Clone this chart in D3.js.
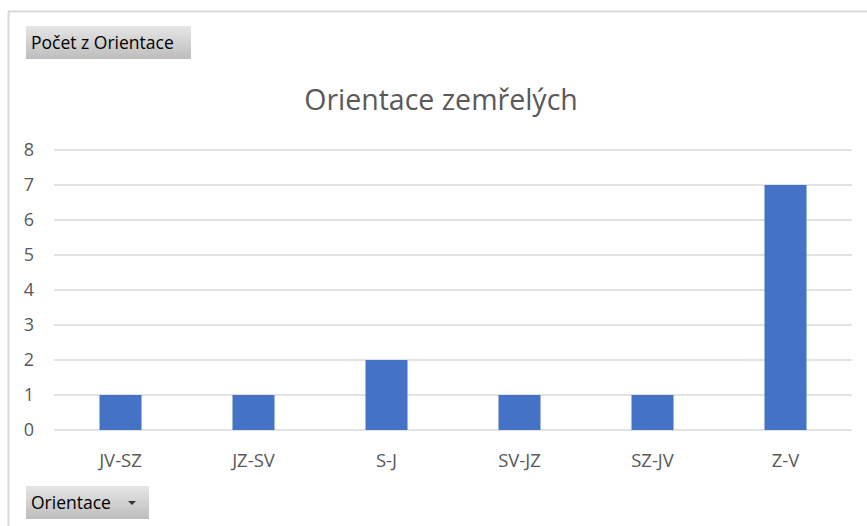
<!DOCTYPE html>
<html>
<head>
<meta charset="utf-8">
<script src="https://cdn.jsdelivr.net/npm/d3@7"></script>
<style>
  body { margin: 0; background: #fff; }
  svg { display: block; font-family: "Open Sans", "DejaVu Sans", sans-serif; }
</style>
</head>
<body>
<svg id="chart"></svg>
<script>
var categories = ["JV-SZ", "JZ-SV", "S-J", "SV-JZ", "SZ-JV", "Z-V"];
var counts = [1, 1, 2, 1, 1, 7];
var yTicks = [0, 1, 2, 3, 4, 5, 6, 7, 8];

var width = 867;
var height = 526;

var svg = d3.select("#chart")
    .attr("width", width)
    .attr("height", height)

// outer frame (top and left edges only visible)
svg.append("line")
    .attr("x1", 8).attr("x2", width)
    .attr("y1", 11.5).attr("y2", 11.5)
    .attr("stroke", "#d9d9d9").attr("stroke-width", 2)
svg.append("line")
    .attr("x1", 8.5).attr("x2", 8.5)
    .attr("y1", 11).attr("y2", height)
    .attr("stroke", "#d9d9d9").attr("stroke-width", 2)

var plotLeft = 54, plotRight = 852, plotTop = 150, plotBottom = 430;

var xScale = d3.scaleBand()
    .domain(categories)
    .range([plotLeft, plotRight])
    .paddingInner(0.684)
    .paddingOuter(0.342);

var yScale = d3.scaleLinear()
    .domain([0, 8])
    .range([plotBottom, plotTop]);

// gridlines
svg.append("g")
    .selectAll("line")
    .data(yTicks)
    .enter()
    .append("line")
    .attr("x1", plotLeft)
    .attr("x2", plotRight)
    .attr("y1", function(d) { return yScale(d); })
    .attr("y2", function(d) { return yScale(d); })
    .attr("stroke", "#d9d9d9")
    .attr("stroke-width", 1.5)

// y tick labels
svg.append("g")
    .selectAll("text")
    .data(yTicks)
    .enter()
    .append("text")
    .attr("x", 34)
    .attr("y", function(d) { return yScale(d); })
    .attr("dy", "0.36em")
    .attr("text-anchor", "end")
    .attr("font-size", 18)
    .attr("fill", "#595959")
    .text(function(d) { return d; })

// bars
svg.append("g")
    .selectAll("rect")
    .data(counts)
    .enter()
    .append("rect")
    .attr("x", function(d, i) { return xScale(categories[i]); })
    .attr("width", xScale.bandwidth())
    .attr("y", function(d) { return yScale(d); })
    .attr("height", function(d) { return yScale(0) - yScale(d); })
    .attr("fill", "#4472c4")

// x labels
svg.append("g")
    .selectAll("text")
    .data(categories)
    .enter()
    .append("text")
    .attr("x", function(d) { return xScale(d) + xScale.bandwidth() / 2; })
    .attr("y", 460)
    .attr("dy", "0.36em")
    .attr("text-anchor", "middle")
    .attr("font-size", 18.5)
    .attr("fill", "#595959")
    .text(function(d) { return d; })

// title
svg.append("text")
    .attr("x", 441)
    .attr("y", 100)
    .attr("dy", "0.36em")
    .attr("text-anchor", "middle")
    .attr("font-size", 28.5)
    .attr("fill", "#595959")
    .text("Orientace zemřelých")

// pivot field buttons
var defs = svg.append("defs");
var grad = defs.append("linearGradient")
    .attr("id", "btnGrad")
    .attr("x1", 0).attr("y1", 0).attr("x2", 0).attr("y2", 1)
grad.append("stop").attr("offset", "0%").attr("stop-color", "#e6e6e6")
grad.append("stop").attr("offset", "100%").attr("stop-color", "#bdbdbd")

var drawButton = function(x, y, w, label, arrow)
{
    svg.append("rect")
        .attr("x", x).attr("y", y)
        .attr("width", w).attr("height", 33)
        .attr("fill", "url(#btnGrad)")
    svg.append("text")
        .attr("x", x + 5)
        .attr("y", y + 17)
        .attr("dy", "0.36em")
        .attr("font-size", 17.5)
        .attr("fill", "#000")
        .text(label)
    if (arrow)
    {
        var ax = x + w - 17, ay = y + 15;
        svg.append("path")
            .attr("d", "M" + (ax - 4) + "," + ay + "L" + (ax + 4) + "," + ay + "L" + ax + "," + (ay + 4) + "Z")
            .attr("fill", "#333")
    }
}
drawButton(26, 26, 165, "Počet z Orientace", false);
drawButton(26, 486, 123, "Orientace", true);
</script>
</body>
</html>
